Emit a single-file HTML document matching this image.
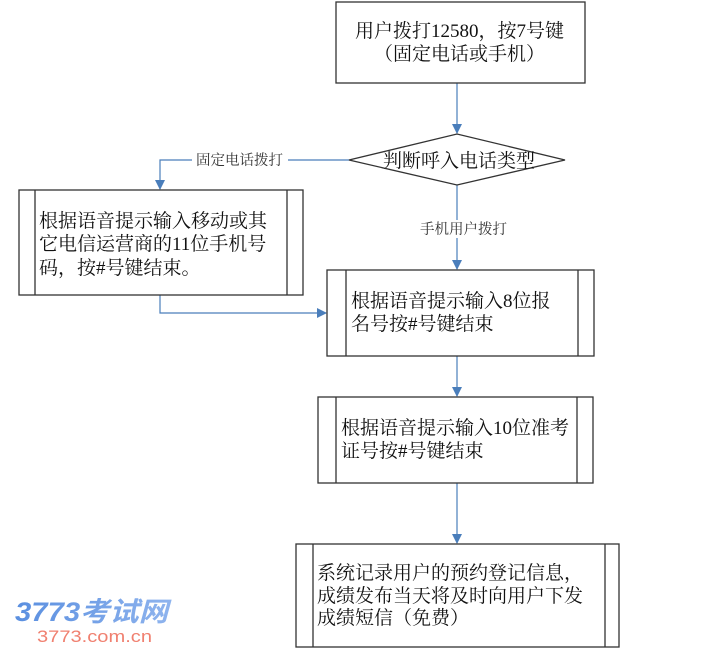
<!DOCTYPE html>
<html><head><meta charset="utf-8"><style>
html,body{margin:0;padding:0;background:#fff;}
svg{display:block}
text{font-family:"Liberation Serif","Noto Serif CJK SC",serif;fill:#111;}
.s{font-size:14.5px;font-family:"Liberation Serif","Noto Serif CJK SC",serif;fill:#333}
</style></head><body>
<svg width="722" height="661" viewBox="0 0 722 661" xmlns="http://www.w3.org/2000/svg">
<defs><marker id="a" markerWidth="10" markerHeight="10" refX="9" refY="5" orient="auto" markerUnits="userSpaceOnUse"><path d="M0,0 L10,5 L0,10 z" fill="#4a7ebb"/></marker>
<linearGradient id="g" x1="0" x2="1"><stop offset="0" stop-color="#5a8fe0"/><stop offset="1" stop-color="#8fb4ee"/></linearGradient></defs>
<g fill="none" stroke="#4a7ebb" stroke-width="1.2">
<path d="M457,83 V133" marker-end="url(#a)"/>
<path d="M349,160 H160 V189" marker-end="url(#a)"/>
<path d="M457,185 V269" marker-end="url(#a)"/>
<path d="M160,295 V313 H326" marker-end="url(#a)"/>
<path d="M457,356 V396" marker-end="url(#a)"/>
<path d="M457,483 V543" marker-end="url(#a)"/>
</g>
<g fill="#fff" stroke="#333" stroke-width="1.3">
<rect x="336" y="2" width="249" height="81"/>
<path d="M349,160 L457,134 L565,160 L457,185 Z"/>
<rect x="19" y="190" width="284" height="105"/>
<rect x="327" y="270" width="267" height="86"/>
<rect x="318" y="397" width="275" height="86"/>
<rect x="296" y="544" width="323" height="103"/>
<path d="M35,190V295M287,190V295M346,270V356M578,270V356M336,397V483M577,397V483M313,544V647M605,544V647"/>
</g>
<rect x="192" y="151" width="96" height="18" fill="#fff"/>
<text class="s" x="196" y="165">固定电话拨打</text>
<rect x="416" y="220" width="94" height="18" fill="#fff"/>
<text class="s" x="420" y="234">手机用户拨打</text>
<g font-size="19">
<text x="355" y="37">用户拨打12580，按7号键</text>
<text x="374" y="60">（固定电话或手机）</text>
<text x="383" y="167">判断呼入电话类型</text>
<text x="39" y="227">根据语音提示输入移动或其</text>
<text x="39" y="250">它电信运营商的11位手机号</text>
<text x="39" y="274">码，按#号键结束。</text>
<text x="351" y="307">根据语音提示输入8位报</text>
<text x="351" y="330">名号按#号键结束</text>
<text x="341" y="434">根据语音提示输入10位准考</text>
<text x="341" y="457">证号按#号键结束</text>
<text x="317" y="579">系统记录用户的预约登记信息，</text>
<text x="317" y="602">成绩发布当天将及时向用户下发</text>
<text x="317" y="624">成绩短信（免费）</text>
</g>
<text x="15" y="621" font-size="27" font-style="italic" font-weight="bold" style="fill:url(#g);font-family:'Liberation Sans','Noto Sans CJK SC',sans-serif" textLength="153" lengthAdjust="spacingAndGlyphs">3773考试网</text>
<text x="37" y="642" font-size="17" style="fill:#f08070;font-family:'Liberation Sans',sans-serif" textLength="115" lengthAdjust="spacingAndGlyphs">3773.com.cn</text>
</svg>
</body></html>
